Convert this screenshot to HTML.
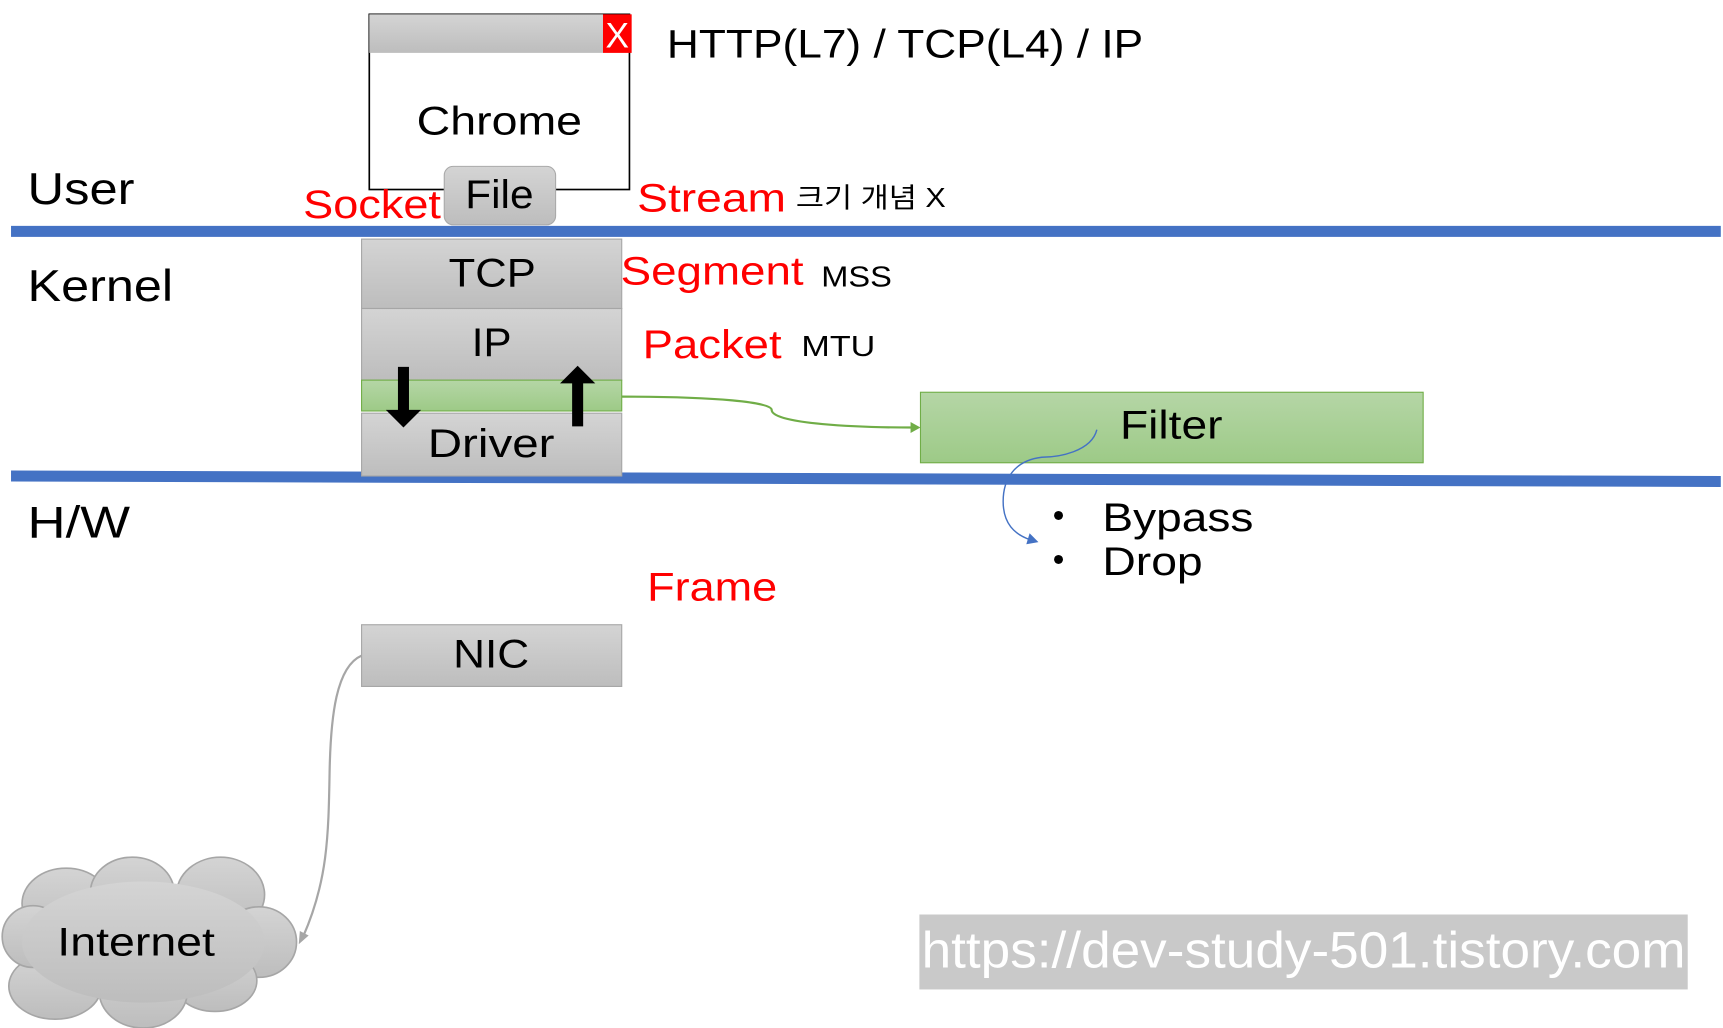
<!DOCTYPE html>
<html><head><meta charset="utf-8"><style>html,body{margin:0;padding:0;background:#fff;overflow:hidden}svg{display:block}text{font-family:"Liberation Sans","Noto Sans CJK KR",sans-serif}</style></head>
<body>
<svg width="1723" height="1028" viewBox="0 0 1563 933" preserveAspectRatio="none" xmlns="http://www.w3.org/2000/svg">
<defs>
<linearGradient id="g" x1="0" y1="0" x2="0" y2="1"><stop offset="0" stop-color="#d4d4d4"/><stop offset="1" stop-color="#bdbdbd"/></linearGradient>
<linearGradient id="gr" x1="0" y1="0" x2="0" y2="1"><stop offset="0" stop-color="#b5d6a6"/><stop offset="1" stop-color="#9dca87"/></linearGradient>
</defs>
<g lengthAdjust="spacingAndGlyphs">
<rect x="335" y="13" width="236" height="159" fill="#fff" stroke="#000" stroke-width="1.5"/>
<rect x="335" y="13" width="212" height="35" fill="url(#g)"/>
<rect x="547" y="13" width="26" height="35" fill="#ff0000"/>
<text x="560" y="43" font-size="32" fill="#fff" text-anchor="middle">X</text>
<text x="378" y="122" font-size="36" textLength="150" lengthAdjust="spacingAndGlyphs">Chrome</text>
<rect x="403" y="151" width="101" height="53" rx="8" fill="url(#g)" stroke="#aaa"/>
<text x="422" y="189" font-size="36" textLength="62" lengthAdjust="spacingAndGlyphs">File</text>
<text x="275" y="198" font-size="36" fill="#ff0000" textLength="125" lengthAdjust="spacingAndGlyphs">Socket</text>
<text x="578" y="192" font-size="36" fill="#ff0000" textLength="135" lengthAdjust="spacingAndGlyphs">Stream</text>
<text x="722" y="188" font-size="25" textLength="136" lengthAdjust="spacingAndGlyphs">크기 개념 X</text>
<text x="605" y="52" font-size="36" textLength="432" lengthAdjust="spacingAndGlyphs">HTTP(L7) / TCP(L4) / IP</text>
<text x="25" y="185" font-size="40" textLength="97" lengthAdjust="spacingAndGlyphs">User</text>
<text x="25" y="273" font-size="40" textLength="132" lengthAdjust="spacingAndGlyphs">Kernel</text>
<text x="25" y="488" font-size="40" textLength="93" lengthAdjust="spacingAndGlyphs">H/W</text>
<rect x="10" y="205" width="1551" height="10" fill="#4472c4"/>
<polygon points="10,427 1561,432 1561,442 10,437" fill="#4472c4"/>
<rect x="328" y="217" width="236" height="63" fill="url(#g)" stroke="#a6a6a6"/>
<rect x="328" y="280" width="236" height="65" fill="url(#g)" stroke="#a6a6a6"/>
<rect x="328" y="345" width="236" height="28" fill="url(#gr)" stroke="#70ad47"/>
<rect x="328" y="375" width="236" height="57" fill="url(#g)" stroke="#a6a6a6"/>
<text x="407" y="260" font-size="36" textLength="79" lengthAdjust="spacingAndGlyphs">TCP</text>
<text x="428" y="323" font-size="36" textLength="36" lengthAdjust="spacingAndGlyphs">IP</text>
<text x="388" y="415" font-size="36" textLength="115" lengthAdjust="spacingAndGlyphs">Driver</text>
<polygon points="361,333 371,333 371,372 382,372 366,388 350,372 361,372" fill="#000"/>
<polygon points="519,387 529,387 529,348 540,348 524,332 508,348 519,348" fill="#000"/>
<text x="563" y="258" font-size="36" fill="#ff0000" textLength="166" lengthAdjust="spacingAndGlyphs">Segment</text>
<text x="745" y="260" font-size="26" textLength="64" lengthAdjust="spacingAndGlyphs">MSS</text>
<text x="583" y="325" font-size="36" fill="#ff0000" textLength="126" lengthAdjust="spacingAndGlyphs">Packet</text>
<text x="727" y="323" font-size="26" textLength="67" lengthAdjust="spacingAndGlyphs">MTU</text>
<rect x="835" y="356" width="456" height="64" fill="url(#gr)" stroke="#70ad47"/>
<text x="1016" y="398" font-size="36" textLength="93" lengthAdjust="spacingAndGlyphs">Filter</text>
<path d="M564,360 C650,360 700,365 700,372 C700,385 780,388 828,388" fill="none" stroke="#70ad47" stroke-width="2"/>
<polygon points="835,388 826,383 826,393" fill="#70ad47"/>
<path d="M995,390 C990,410 960,415 945,415 C920,418 910,435 910,455 C910,475 920,485 935,490" fill="none" stroke="#4472c4" stroke-width="1.3"/>
<polygon points="942,492 931,494 934,484" fill="#4472c4"/>
<text x="955" y="478" font-size="30">•</text>
<text x="1000" y="482" font-size="36" textLength="137" lengthAdjust="spacingAndGlyphs">Bypass</text>
<text x="955" y="518" font-size="30">•</text>
<text x="1000" y="522" font-size="36" textLength="91" lengthAdjust="spacingAndGlyphs">Drop</text>
<text x="587" y="545" font-size="36" fill="#ff0000" textLength="118" lengthAdjust="spacingAndGlyphs">Frame</text>
<rect x="328" y="567" width="236" height="56" fill="url(#g)" stroke="#a6a6a6"/>
<text x="411" y="606" font-size="36" textLength="69" lengthAdjust="spacingAndGlyphs">NIC</text>
<path d="M328,595 C305,605 300,650 299,700 C298,760 297,800 275,850" fill="none" stroke="#a6a6a6" stroke-width="2"/>
<polygon points="271,857 272,845 280,849" fill="#a6a6a6"/>
<g fill="url(#g)" stroke="#a6a6a6" stroke-width="1.5">
<ellipse cx="60" cy="820" rx="40" ry="32"/>
<ellipse cx="120" cy="810" rx="38" ry="32"/>
<ellipse cx="200" cy="812" rx="40" ry="34"/>
<ellipse cx="235" cy="855" rx="34" ry="32"/>
<ellipse cx="195" cy="890" rx="38" ry="28"/>
<ellipse cx="130" cy="900" rx="40" ry="33"/>
<ellipse cx="50" cy="895" rx="42" ry="30"/>
<ellipse cx="30" cy="850" rx="28" ry="28"/>
</g>
<ellipse cx="130" cy="855" rx="110" ry="55" fill="url(#g)"/>
<text x="52" y="867" font-size="36" textLength="143" lengthAdjust="spacingAndGlyphs">Internet</text>
<rect x="834" y="830" width="697" height="68" fill="#c9c9c9"/>
<text x="836" y="878" font-size="46" fill="#fff" textLength="693" lengthAdjust="spacingAndGlyphs">https://dev-study-501.tistory.com</text>
</g>
</svg>
</body></html>
